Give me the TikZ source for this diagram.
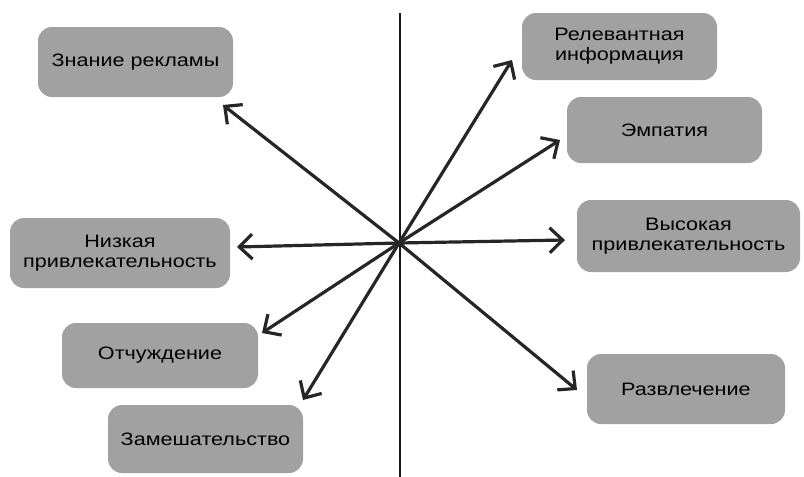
\documentclass[tikz,border=0pt]{standalone}
\usepackage{fontspec}
\setmainfont{Liberation Sans}[FakeStretch=1.2]
\usetikzlibrary{arrows.meta}
\tikzset{
  factor/.style = {fill=black!37, rounded corners=14pt, align=center,
                   inner sep=0pt, font=\fontsize{18}{20}\selectfont},
  axisline/.style = {line width=1.2pt, black!90},
  ray/.style    = {line width=3.2pt, black!85,
                   -{Straight Barb[length=13pt,width=25pt,line width=3.2pt]}},
}
\begin{document}
\begin{tikzpicture}[x=1pt,y=-1pt]
  \useasboundingbox (0,0) rectangle (804,477);
  \draw[axisline] (400,13) -- (400,477);
  \coordinate (c) at (399,243);
  % boxes
  \node[factor, minimum width=195pt, minimum height=70pt] (znanie) at (135.5,62) {Знание рекламы};
  \node[factor, minimum width=195pt, minimum height=67pt] (relev) at (619.5,46.5) {Релевантная\\информация};
  \node[factor, minimum width=195pt, minimum height=66pt] (empat) at (664.5,130) {Эмпатия};
  \node[factor, minimum width=223pt, minimum height=72pt] (vysok) at (688.5,236) {Высокая\\привлекательность};
  \node[factor, minimum width=220pt, minimum height=70pt] (nizk) at (120,253) {Низкая\\привлекательность};
  \node[factor, minimum width=196pt, minimum height=65pt] (otch) at (160,355.5) {Отчуждение};
  \node[factor, minimum width=198pt, minimum height=70pt] (razvl) at (686,389) {Развлечение};
  \node[factor, minimum width=195pt, minimum height=68pt] (zamesh) at (205.5,439) {Замешательство};
  % arrow tips
  \coordinate (tznanie) at (223,105);
  \coordinate (trelev) at (512,60);
  \coordinate (tempat) at (560,140);
  \coordinate (tvysok) at (565,240);
  \coordinate (tnizk) at (237,247);
  \coordinate (totch) at (262,333);
  \coordinate (tzamesh) at (303,400);
  \coordinate (trazvl) at (577,390);
  \foreach \t in {tznanie,trelev,tempat,tvysok,tnizk,totch,tzamesh,trazvl}
    \draw[ray] (c) -- (\t);
\end{tikzpicture}
\end{document}
